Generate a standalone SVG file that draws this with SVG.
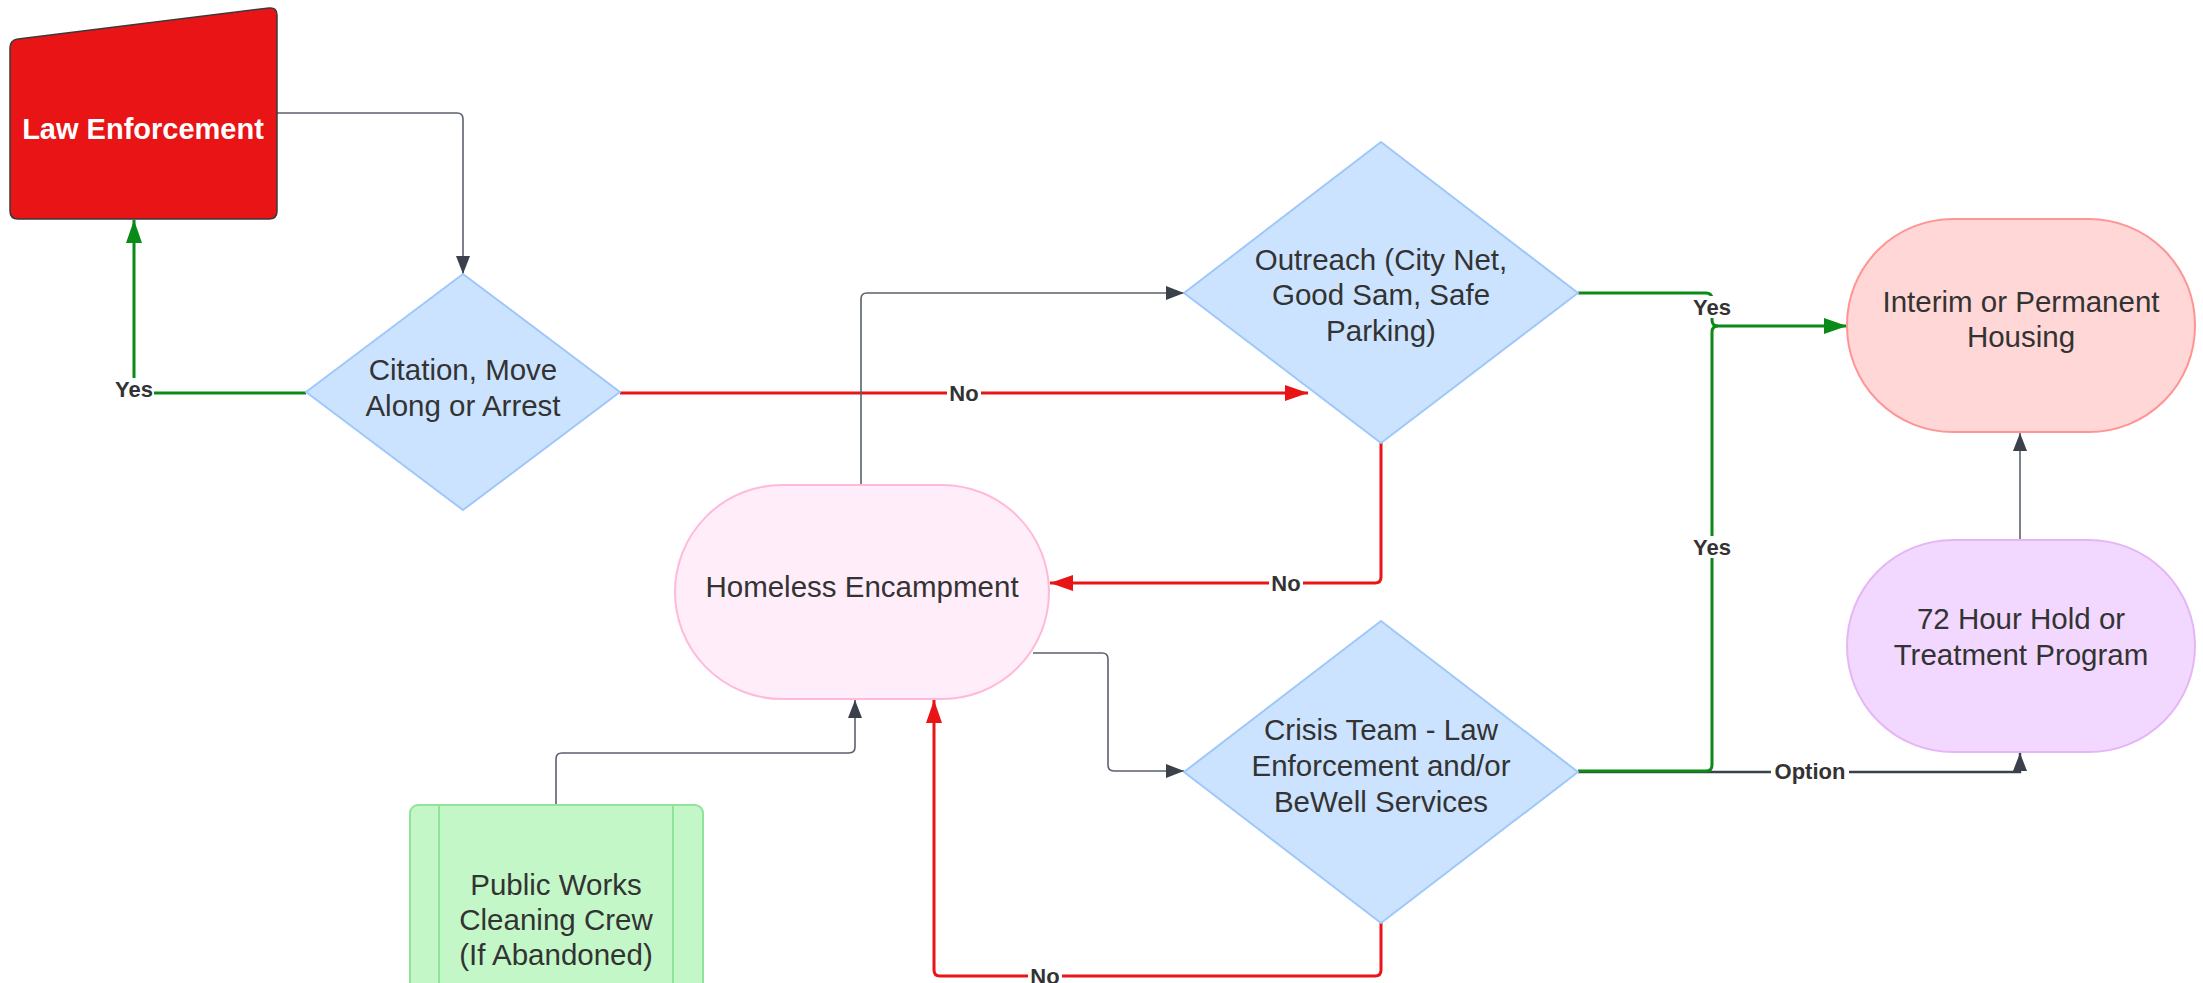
<svg xmlns="http://www.w3.org/2000/svg" width="2203" height="983" viewBox="0 0 2203 983">
<style>
.t{font-family:"Liberation Sans",Arial,sans-serif;font-size:29.5px;fill:#333333;text-anchor:middle}
.tw{font-family:"Liberation Sans",Arial,sans-serif;font-size:29px;font-weight:bold;fill:#ffffff;text-anchor:middle}
.lb{font-family:"Liberation Sans",Arial,sans-serif;font-size:22px;font-weight:bold;fill:#333333;text-anchor:middle;dominant-baseline:central}
.dia{fill:#CCE3FF;stroke:#9EC8FA;stroke-width:2;stroke-linejoin:round}
.g{fill:none;stroke:#5B626C;stroke-width:1.6}
.gd{fill:none;stroke:#3A414A;stroke-width:2.4}
.gr{fill:none;stroke:#0A8A16;stroke-width:3}
.rd{fill:none;stroke:#E81416;stroke-width:3}
</style>
<defs>
<marker id="ag" markerUnits="userSpaceOnUse" markerWidth="20" markerHeight="14" refX="18" refY="7" orient="auto"><path d="M0,0 L18,7 L0,14 Z" fill="#3A414A"/></marker>
<marker id="agr" markerUnits="userSpaceOnUse" markerWidth="24" markerHeight="16" refX="23" refY="8" orient="auto"><path d="M0,0 L23,8 L0,16 Z" fill="#0A8A16"/></marker>
<marker id="ard" markerUnits="userSpaceOnUse" markerWidth="24" markerHeight="16" refX="23" refY="8" orient="auto"><path d="M0,0 L23,8 L0,16 Z" fill="#E81416"/></marker>
</defs>
<rect width="2203" height="983" fill="#ffffff"/>

<g id="connectors">
<path class="g" d="M277,113 L457,113 Q463,113 463,119 L463,274" marker-end="url(#ag)"/>
<path class="gr" d="M306,393 L140,393 Q134,393 134,387 L134,220" marker-end="url(#agr)"/>
<path class="rd" d="M620,393 L1308,393" marker-end="url(#ard)"/>
<path class="g" d="M861,485 L861,299 Q861,293 867,293 L1184,293" marker-end="url(#ag)"/>
<path class="rd" d="M1381,443 L1381,577 Q1381,583 1375,583 L1050,583" marker-end="url(#ard)"/>
<path class="g" d="M1033,653 L1102,653 Q1108,653 1108,659 L1108,765 Q1108,771 1114,771 L1184,771" marker-end="url(#ag)"/>
<path class="rd" d="M1381,923 L1381,970 Q1381,976 1375,976 L940,976 Q934,976 934,970 L934,700" marker-end="url(#ard)"/>
<path class="g" d="M556,805 L556,759 Q556,753 562,753 L849,753 Q855,753 855,747 L855,700" marker-end="url(#ag)"/>
<path class="gd" d="M1578,772 L2020,772 L2020,753" marker-end="url(#ag)"/>
<path class="gr" d="M1578,293 L1706,293 Q1712,293 1712,299 L1712,320 Q1712,326 1718,326 L1847,326" marker-end="url(#agr)"/>
<path class="gr" d="M1578,771 L1706,771 Q1712,771 1712,765 L1712,332 Q1712,326 1718,326"/>
<path class="g" d="M2020,540 L2020,433" marker-end="url(#ag)"/>
<g>
<rect x="114" y="378" width="40" height="22" fill="#ffffff"/><text class="lb" x="134" y="389">Yes</text>
<rect x="947" y="382" width="34" height="22" fill="#ffffff"/><text class="lb" x="964" y="393">No</text>
<rect x="1269" y="572" width="34" height="22" fill="#ffffff"/><text class="lb" x="1286" y="583">No</text>
<rect x="1028" y="965" width="34" height="22" fill="#ffffff"/><text class="lb" x="1045" y="976">No</text>
<rect x="1692" y="296" width="40" height="22" fill="#ffffff"/><text class="lb" x="1712" y="307">Yes</text>
<rect x="1692" y="536" width="40" height="22" fill="#ffffff"/><text class="lb" x="1712" y="547">Yes</text>
<rect x="1771" y="760" width="78" height="22" fill="#ffffff"/><text class="lb" x="1810" y="771">Option</text>
</g>
</g>

<g id="law-enforcement">
<path d="M10,48 Q10,40 18,39 L269,8 Q277,7 277,15 L277,211 Q277,219 269,219 L18,219 Q10,219 10,211 Z" fill="#E81416" stroke="#3A3A3A" stroke-width="1.5"/>
<text class="tw" x="143" y="139">Law Enforcement</text>
</g>

<g id="citation">
<path class="dia" d="M463,274 L620,392 L463,510 L306,392 Z"/>
<text class="t" x="463" y="380">Citation, Move</text>
<text class="t" x="463" y="416">Along or Arrest</text>
</g>

<g id="outreach">
<path class="dia" d="M1381,142 L1578,293 L1381,443 L1184,293 Z"/>
<text class="t" x="1381" y="270">Outreach (City Net,</text>
<text class="t" x="1381" y="305">Good Sam, Safe</text>
<text class="t" x="1381" y="341">Parking)</text>
</g>

<g id="homeless-encampment">
<rect x="675" y="485" width="374" height="214" rx="107" ry="107" fill="#FFEEFA" stroke="#FFB9DA" stroke-width="2"/>
<text class="t" x="862" y="597">Homeless Encampment</text>
</g>

<g id="crisis-team">
<path class="dia" d="M1381,621 L1578,772 L1381,923 L1184,772 Z"/>
<text class="t" x="1381" y="740">Crisis Team - Law</text>
<text class="t" x="1381" y="776">Enforcement and/or</text>
<text class="t" x="1381" y="812">BeWell Services</text>
</g>

<g id="housing">
<rect x="1847" y="219" width="348" height="213" rx="106" ry="106" fill="#FFD7D7" stroke="#FF9494" stroke-width="2"/>
<text class="t" x="2021" y="312">Interim or Permanent</text>
<text class="t" x="2021" y="347">Housing</text>
</g>

<g id="hold-treatment">
<rect x="1847" y="540" width="348" height="212" rx="106" ry="106" fill="#F2D8FE" stroke="#E5B6F6" stroke-width="2"/>
<text class="t" x="2021" y="629">72 Hour Hold or</text>
<text class="t" x="2021" y="665">Treatment Program</text>
</g>

<g id="public-works">
<rect x="410" y="805" width="293" height="200" rx="8" ry="8" fill="#C3F7C8" stroke="#8FE49A" stroke-width="2"/>
<line x1="439" y1="805" x2="439" y2="1005" stroke="#8FE49A" stroke-width="2"/>
<line x1="673" y1="805" x2="673" y2="1005" stroke="#8FE49A" stroke-width="2"/>
<text class="t" x="556" y="895">Public Works</text>
<text class="t" x="556" y="930">Cleaning Crew</text>
<text class="t" x="556" y="965">(If Abandoned)</text>
</g>
</svg>
